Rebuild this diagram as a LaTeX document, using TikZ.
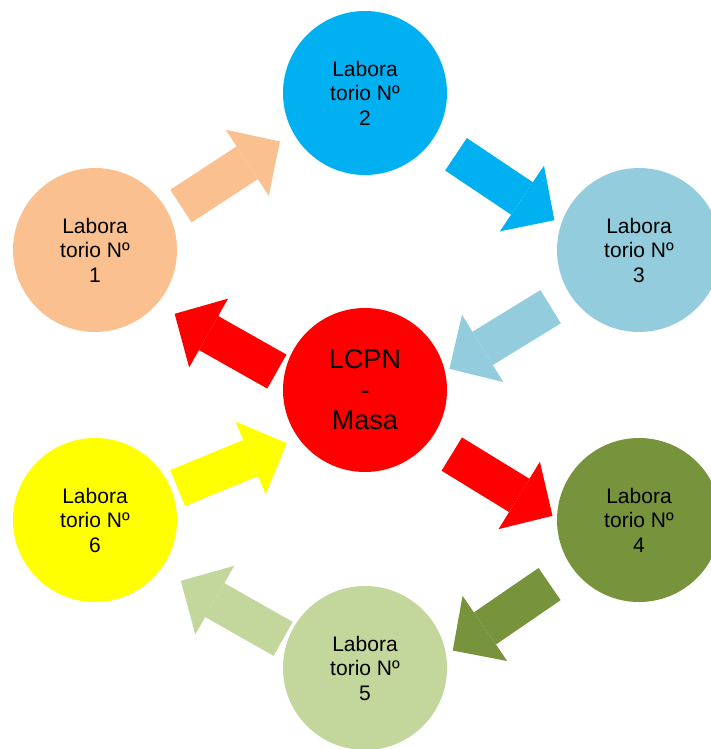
\documentclass[tikz,border=0pt]{standalone}
\usepackage{fontspec}
\setmainfont{Liberation Sans}
\usepackage{xcolor}
\usepackage{tikz}
\usetikzlibrary{arrows.meta}

\definecolor{peach}{HTML}{FAC090}
\definecolor{sky}{HTML}{00B0F0}
\definecolor{aqua}{HTML}{93CDDD}
\definecolor{olive}{HTML}{77933C}
\definecolor{sage}{HTML}{C3D69B}
\definecolor{lemon}{HTML}{FFFF00}
\definecolor{hubred}{HTML}{FF0000}

\begin{document}
\begin{tikzpicture}[x=1pt, y=-1pt]
            \tikzstyle{lab} = [circle, minimum size=164pt, inner sep=0pt, outer sep=0pt, align=center, font=\fontsize{21}{24.5}\selectfont];
            \tikzstyle{hub} = [lab, font=\fontsize{27}{30.5}\selectfont]
            \tikzstyle{flow} = [line width=39pt, -{Triangle[length=39pt, width=79pt, line width=0pt]}]
            \useasboundingbox (0,0) rectangle (711,749);

            \node [hub, fill=hubred] (C) at (365,390) {LCPN\\-\\Masa};

            \node [lab, fill=peach] (L1) at (95,250) {Labora\\torio Nº\\1};
            \node [lab, fill=sky] (L2) at (365,93) {Labora\\torio Nº\\2};
            \node [lab, fill=aqua] (L3) at (639,250) {Labora\\torio Nº\\3};

            \node [lab, fill=olive] (L4) at (639,520) {Labora\\torio Nº\\4};
            \node [lab, fill=sage] (L5) at (365,668) {Labora\\torio Nº\\5};
            \node [lab, fill=lemon] (L6) at (95,520) {Labora\\torio Nº\\6};

            % outer ring
            \draw [flow, draw=peach, shorten <=14.6pt, shorten >=16pt] (L1.26) to (L2.209);
            \draw [flow, draw=sky, shorten <=27.7pt, shorten >=8pt] (L2.-34) to (L3.162);
            \draw [flow, draw=olive, shorten <=28pt, shorten >=8.2pt] (L4.216) to (L5.9);
            \draw [flow, draw=sage, shorten <=5pt, shorten >=23.4pt] (L5.161) to (L6.-37);

            % through the hub
            \draw [flow, draw=aqua, shorten <=23pt, shorten >=5.3pt] (L3.213) to (C.13);
            \draw [flow, draw=hubred, shorten <=8.5pt, shorten >=20.4pt] (C.170) to (L1.-41);
            \draw [flow, draw=lemon, shorten <=6.6pt, shorten >=13pt] (L6.21) to (C.216);
            \draw [flow, draw=hubred, shorten <=26pt, shorten >=5.3pt] (C.-38) to (L4.179);
\end{tikzpicture}
\end{document}
